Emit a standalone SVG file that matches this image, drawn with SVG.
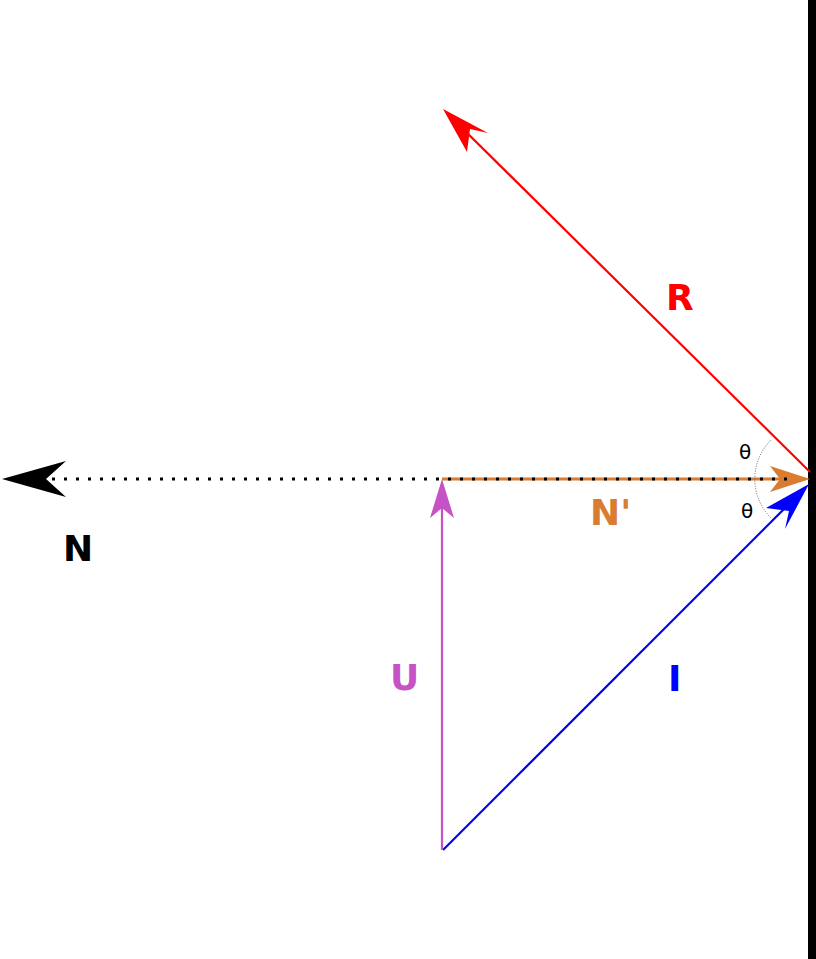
<svg xmlns="http://www.w3.org/2000/svg" width="816" height="959" viewBox="0 0 816 959">
<style>
.lbl{font-family:"DejaVu Sans",sans-serif;font-weight:bold;font-size:36px}
.th{font-family:"DejaVu Sans",sans-serif;font-size:20px}
</style>
<rect width="816" height="959" fill="#fff"/>
<g id="wall"><rect x="808" y="0" width="8" height="959" fill="#000"/></g>
<g id="connectors" fill="none" stroke-width="2.2">
<line x1="810" y1="472" x2="455" y2="121" stroke="#f00"/>
<path d="M443,109 L488,133 L470,129 L467,152 Z" fill="#f00" stroke="none"/>
<line x1="443" y1="850" x2="798" y2="495" stroke="#00f"/>
<path d="M809,484 L785,529 L789,511 L766,508 Z" fill="#00f" stroke="none"/>
<line x1="442" y1="850" x2="442" y2="495" stroke="#c653c6"/>
<path d="M442,479 L454,518 L442,508 L430,518 Z" fill="#c653c6" stroke="none"/>
<line x1="442" y1="479" x2="795" y2="479" stroke="#d97b30" stroke-width="3"/>
<path d="M810,479 L770,492 L780,479 L770,466 Z" fill="#d97b30" stroke="none"/>
<line x1="40" y1="479" x2="790" y2="479" stroke="#000" stroke-width="3" stroke-dasharray="3,9"/>
<path d="M2,479 L66,461 L46,479 L66,497 Z" fill="#000" stroke="none"/>
<path d="M771,440 A55,55 0 0 0 771,518" stroke="#666" stroke-width="1" stroke-dasharray="1,1.5"/>
</g>
<g id="labels">
<text class="lbl" x="666" y="310" fill="#f00">R</text>
<text class="lbl" x="63" y="561" fill="#000">N</text>
<text class="lbl" x="590" y="525" fill="#d97b30">N'</text>
<text class="lbl" x="390" y="690" fill="#c653c6">U</text>
<text class="lbl" x="668" y="691" fill="#00f">I</text>
<text class="th" x="739" y="459">θ</text>
<text class="th" x="741" y="518">θ</text>
</g>
</svg>
